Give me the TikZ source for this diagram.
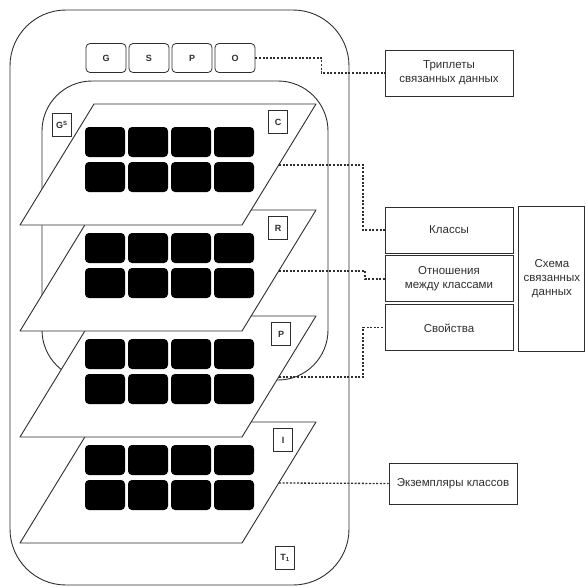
\documentclass[tikz,border=0pt]{standalone}
\usepackage{fontspec}
\setmainfont{Liberation Sans}
\usetikzlibrary{positioning,calc}
\definecolor{SchemeLine}{HTML}{2E2E2E}
\tikzset{every node/.style={font=\fontsize{11.5}{14}\selectfont,text=SchemeLine},
 infobox/.style={draw=SchemeLine,line width=.9pt,align=center,inner sep=0pt,
 minimum width=128pt,minimum height=46pt},
 tag/.style={draw=SchemeLine,line width=.8pt,inner sep=0pt,minimum width=19pt,
 minimum height=23pt,font=\fontsize{9}{10}\selectfont\bfseries},
 gspo/.style={tag,rounded corners=4pt,minimum width=40pt,minimum height=29pt},
 layer/.style={draw=SchemeLine,line width=.9pt,fill=white,line join=round},
 cell/.style={fill=black,rounded corners=4pt},
 link/.style={draw=SchemeLine,line width=1.3pt,dash pattern=on 2pt off 1.6pt}}
\begin{document}
\begin{tikzpicture}[x=1pt,y=-1pt]
\useasboundingbox (0,0) rectangle (586,587);
\draw[SchemeLine,line width=.9pt,rounded corners=56pt] (10,10) rectangle (349,585);
\foreach \lab/\nm [count=\k from 0] in {G/q-g,S/q-s,P/q-p,O/q-o}
 {\node[gspo] (\nm) at ({106+43*\k},58) {\lab};}
\draw[SchemeLine,line width=.9pt,rounded corners=50pt] (42,81) rectangle (328,380);
\node[tag] (gs) at (62,125) {G\textsuperscript{S}};
\foreach \t/\lab/\nm/\lx in {422/I/i/283,316/P/p/281,210/R/r/278,104/C/c/278}
 {\draw[layer] (20,{\t+121}) -- (242,{\t+121}) -- (316,\t) -- (94,\t) -- cycle;
 \foreach \cx in {85,128,171,214} \foreach \ry in {23,58}
 {\fill[cell] (\cx,{\t+\ry}) rectangle ++(40,30);}
 \node[tag] (\nm-tag) at (\lx,{\t+18}) {\lab};
 \coordinate (\nm-e) at (279,{\t+61});}
\node[tag] (t1) at (285,558) {T\textsubscript{1}};
\node[infobox] (tripl) at (449,73) {Триплеты\\связанных данных};
\node[infobox] (cls) at (449,230) {Классы};
\node[infobox,below=2pt of cls] (rel) {Отношения\\между классами};
\node[infobox,below=2pt of rel] (prop) {Свойства};
\node[infobox,right=5pt of rel,minimum width=66pt,minimum height=145pt] (scheme)
 {Схема\\связанных\\данных};
\node[infobox,minimum height=41pt] (inst) at (453,483.5) {Экземпляры классов};
\draw[link] (q-o.east) -- ++(66,0) |- (tripl.west);
\draw[link] (c-e) -- ++(84,0) |- (cls.west);
\draw[link] (r-e) -- ++(86,0) |- (rel.west);
\draw[link] (p-e) -- ++(84,0) |- (prop.west);
\draw[link] (i-e) -- (inst.west);
\end{tikzpicture}
\end{document}
